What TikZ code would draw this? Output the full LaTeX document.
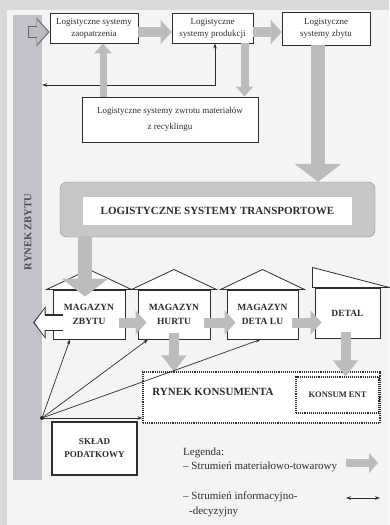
\documentclass[tikz,border=0pt]{standalone}
\usepackage{fontspec}
\setmainfont{Liberation Serif}
\usetikzlibrary{arrows.meta,positioning}

\definecolor{framegray}{HTML}{D9D9D9}
\definecolor{pagegray}{HTML}{F4F4F4}
\definecolor{bargray}{HTML}{C2C2CA}
\definecolor{flowgray}{HTML}{BCBCBC}
\definecolor{ink}{HTML}{2E2E2E}

\tikzset{
  sysbox/.style={draw=ink, line width=0.9pt, fill=white, align=center, text=ink,
    font=\fontsize{9}{12}\selectfont, inner sep=1pt},
  wall/.style={draw=ink, line width=1pt, fill=white, align=center, text=ink,
    font=\bfseries\fontsize{9.5}{14.5}\selectfont, inner sep=0pt},
  roof/.style={draw=ink, line width=0.8pt, fill=white, line join=miter},
  dotbox/.style={draw=ink, densely dotted, line width=1.1pt, fill=white},
  flow/.style={draw=flowgray, line width=10pt, -{Triangle[length=11pt,width=24pt]}},
  flowrim/.style={draw=ink!75, line width=12pt, -{Triangle[length=13pt,width=28pt]}},
  slimflow/.style={draw=flowgray, line width=8pt, -{Triangle[length=10pt,width=17pt]}},
  dropflow/.style={draw=flowgray, line width=10pt, -{Triangle[length=16pt,width=24pt]}},
  bigflow/.style={draw=flowgray, line width=14pt, -{Triangle[length=18pt,width=46pt]}},
  hollowrim/.style={draw=ink, line width=16.5pt, -{Triangle[length=12.5pt,width=32pt]}},
  hollow/.style={draw=white, line width=14pt, -{Triangle[length=10pt,width=27pt]}},
  info/.style={draw=ink, line width=0.7pt, -{Stealth[length=5pt,width=3.5pt]}},
  infoboth/.style={draw=ink, line width=0.7pt,
    {Stealth[length=5pt,width=3.5pt]}-{Stealth[length=5pt,width=3.5pt]}},
  legend/.style={text=ink, font=\fontsize{11}{13}\selectfont, inner sep=0pt, anchor=west},
}

\begin{document}
\begin{tikzpicture}[x=1pt,y=-1pt]
  \useasboundingbox (0,0) rectangle (389,525);
  % page
  \fill[framegray] (0,0) rectangle (389,525);
  \fill[pagegray] (7,10) rectangle (389,525);

  % market bar
  \node[fill=bargray, minimum width=29pt, minimum height=465pt, inner sep=0pt] (bar) at (27.5,247.5) {};
  \node[rotate=90, text=ink!85, font=\bfseries\fontsize{10.5}{12}\selectfont] (barlabel) at (28,232) {RYNEK ZBYTU};

  % logistic systems
  \node[sysbox, minimum width=88pt, minimum height=30pt] (zaop) at (94,28) {Logistyczne systemy\\zaopatrzenia};
  \node[sysbox, minimum width=81pt, minimum height=30pt] (prod) at (212.5,28) {Logistyczne\\systemy produkcji};
  \node[sysbox, minimum width=88pt, minimum height=33pt] (zbyt) at (326,28.5) {Logistyczne\\systemy zbytu};
  \node[sysbox, minimum width=176pt, minimum height=45pt, font=\fontsize{9}{16}\selectfont] (zwrot) at (170,119.5) {Logistyczne systemy zwrotu materiałów\\z recyklingu};

  % transport
  \node[draw=ink!55, fill=black!22, rounded corners=7pt, minimum width=315pt, minimum height=55pt] (trans) at (217.5,209.5) {};
  \node[fill=white, minimum width=269pt, minimum height=28pt, text=ink,
    font=\bfseries\fontsize{11}{13}\selectfont] (transin) at (217.5,211) {LOGISTYCZNE SYSTEMY TRANSPORTOWE};

  % warehouses
  \node[wall, minimum width=72pt, minimum height=49pt] (mz) at (89,314.5) {MAGAZYN\\ZBYTU};
  \node[wall, minimum width=72pt, minimum height=49pt] (mh) at (174,314.5) {MAGAZYN\\HURTU};
  \node[wall, minimum width=71pt, minimum height=49pt] (md) at (262.5,314.5) {MAGAZYN\\DETA LU};
  \node[wall, minimum width=65pt, minimum height=50pt] (det) at (347.5,313) {DETAL};
  \foreach \h in {mz,mh,md}
    \draw[roof] ([xshift=-6pt]\h.north west) -- ([yshift=20pt]\h.north) -- ([xshift=6pt]\h.north east) -- cycle;
  \draw[roof] ([xshift=-2pt]det.north west) -- ([xshift=-2pt,yshift=20pt]det.north west) -- ([xshift=9pt]det.north east) -- cycle;

  % consumer market
  \node[dotbox, minimum width=237pt, minimum height=51pt] (rk) at (261.5,397.5) {};
  \node[text=ink, font=\bfseries\fontsize{11}{13}\selectfont] (rklabel) at (213,392) {RYNEK KONSUMENTA};
  \node[dotbox, minimum width=83pt, minimum height=36pt, text=ink,
    font=\bfseries\fontsize{8.5}{10}\selectfont] (kons) at (337.5,395) {KONSUM ENT};

  % tax warehouse
  \node[draw=ink, line width=1.8pt, fill=white, minimum width=85pt, minimum height=53pt, align=center,
    text=ink, font=\bfseries\fontsize{9}{13}\selectfont] (sklad) at (94.5,448.5) {SKŁAD\\PODATKOWY};

  % information line at the top
  \coordinate (knee) at (215,85);
  \draw[infoboth] (bar.east |- knee) -| (knee |- prod.south);

  % material flows, top
  \draw[flowrim] ([yshift=-4pt]bar.center |- zaop.west) -- ([yshift=-4pt]zaop.west);
  \draw[flow] ([xshift=1.2pt,yshift=-4pt]bar.center |- zaop.west) -- ([xshift=-1.5pt,yshift=-4pt]zaop.west);
  \draw[flow] ([yshift=-4pt]zaop.east) -- ([yshift=-4pt]prod.west);
  \draw[flow] ([yshift=-4pt]prod.east) -- ([yshift=-4pt]prod.east -| zbyt.west);
  \draw[slimflow] ([xshift=32pt]prod.south) -- ([xshift=32pt]prod.south |- zwrot.north);
  \draw[slimflow, line width=7pt] ([xshift=9pt]zaop.south |- zwrot.north) -- ([xshift=9pt]zaop.south);
  \draw[bigflow] ([xshift=-8pt]zbyt.south) -- ([xshift=-8pt]zbyt.south |- trans.north);
  \draw[bigflow] ([xshift=-4pt]mz.north |- trans.south) -- ([xshift=-4pt,yshift=-7pt]mz.north);

  % material flows, warehouses
  \draw[hollowrim] ([xshift=10pt,yshift=-8pt]mz.west) -- ([xshift=-9pt,yshift=-8pt]bar.east |- mz.west);
  \draw[hollow] ([xshift=10pt,yshift=-8pt]mz.west) -- ([xshift=-7.5pt,yshift=-8pt]bar.east |- mz.west);
  \draw[flow] ([xshift=-7pt,yshift=-8pt]mz.east) -- ([xshift=9pt,yshift=-8pt]mh.west);
  \draw[flow] ([xshift=-7pt,yshift=-8pt]mh.east) -- ([xshift=9pt,yshift=-8pt]md.west);
  \draw[flow] ([xshift=-7pt,yshift=-8pt]md.east) -- ([xshift=7pt,yshift=-8pt]md.east -| det.west);
  \draw[dropflow] ([yshift=7pt]mh.south) -- (mh.south |- rk.north);
  \draw[dropflow] ([xshift=-2pt,yshift=7pt]det.south) -- ([xshift=-2pt]det.south |- kons.north);

  % information lines from the tax warehouse
  \coordinate (hub) at (42,418);
  \fill[ink] (hub) circle (2pt);
  \draw[info] (hub) -- ([xshift=-19pt]mz.south);
  \draw[info] (hub) -- ([xshift=-26pt]mh.south);
  \draw[info] (hub) -- ([xshift=-2pt]md.south);
  \draw[info] (hub) -- (hub -| rk.west);

  % legend
  \node[legend] (lgtitle) at (183,453) {Legenda:};
  \node[legend] (lgmat) at (183,467) {– Strumień materiałowo-towarowy};
  \node[legend] (lginfo) at (183,497) {– Strumień informacyjno-};
  \node[legend] (lgdec) at (189,512) {-decyzyjny};
  \coordinate (lgmatA) at (346,463);
  \coordinate (lgmatB) at (378,463);
  \draw[flow, line width=8pt, -{Triangle[length=9pt,width=20pt]}] (lgmatA) -- (lgmatB);
  \coordinate (lginfoA) at (346,498);
  \coordinate (lginfoB) at (380,498);
  \draw[infoboth] (lginfoA) -- (lginfoB);
\end{tikzpicture}
\end{document}
